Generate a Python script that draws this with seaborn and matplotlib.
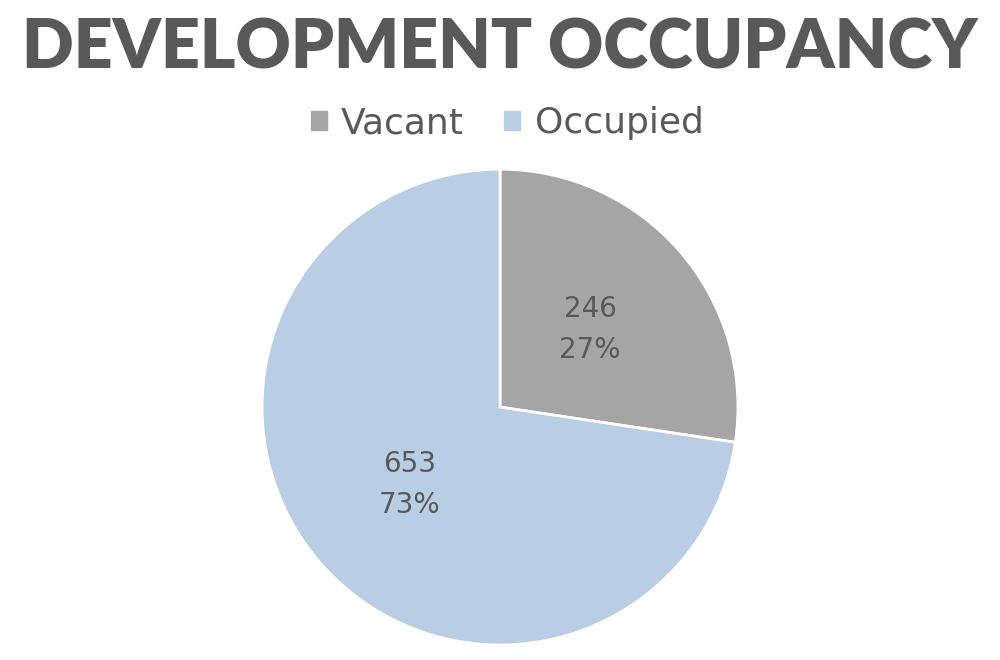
import matplotlib
matplotlib.use('Agg')
import matplotlib.pyplot as plt
import matplotlib.patches as mpatches
import seaborn as sns

# Данные диаграммы
categories = ['Vacant', 'Occupied']
counts = [246, 653]
colors = ['#A5A5A5', '#B9CDE5']
text_color = '#595959'

sns.set_theme(style='white')
plt.rcParams['font.family'] = ['DejaVu Sans']

fig = plt.figure(figsize=(10, 6.6), dpi=100)
ax = fig.add_axes([0.262, 0.0227, 0.476, 0.721])

total = sum(counts)


def label_fmt(pct):
    value = int(round(pct * total / 100.0))
    return f'{value}\n{pct:.0f}%'


wedges, texts, autotexts = ax.pie(counts, colors=colors, startangle=90, counterclock=False,
                                  autopct=label_fmt, pctdistance=0.5,
                                  wedgeprops={'edgecolor': 'white', 'linewidth': 2},
                                  textprops={'color': text_color, 'fontsize': 20, 'linespacing': 1.6})
ax.set_xlim(-1.0, 1.0)
ax.set_ylim(-1.0, 1.0)
ax.set_aspect('equal')

# Заголовок
fig.text(0.5, 0.926, 'DEVELOPMENT OCCUPANCY', ha='center', va='center',
         fontsize=49, fontweight='heavy', color=text_color, family='Lato')

# Легенда
handles = [mpatches.Patch(color=c, label=l) for c, l in zip(colors, categories)]
leg = fig.legend(handles=handles, loc='center', bbox_to_anchor=(0.507, 0.813), ncol=2, frameon=False,
                 fontsize=26, handlelength=0.45, handleheight=0.45, handletextpad=0.4, columnspacing=1.1)
for t in leg.get_texts():
    t.set_color(text_color)

fig.savefig('out.png', dpi=100, facecolor='white')
